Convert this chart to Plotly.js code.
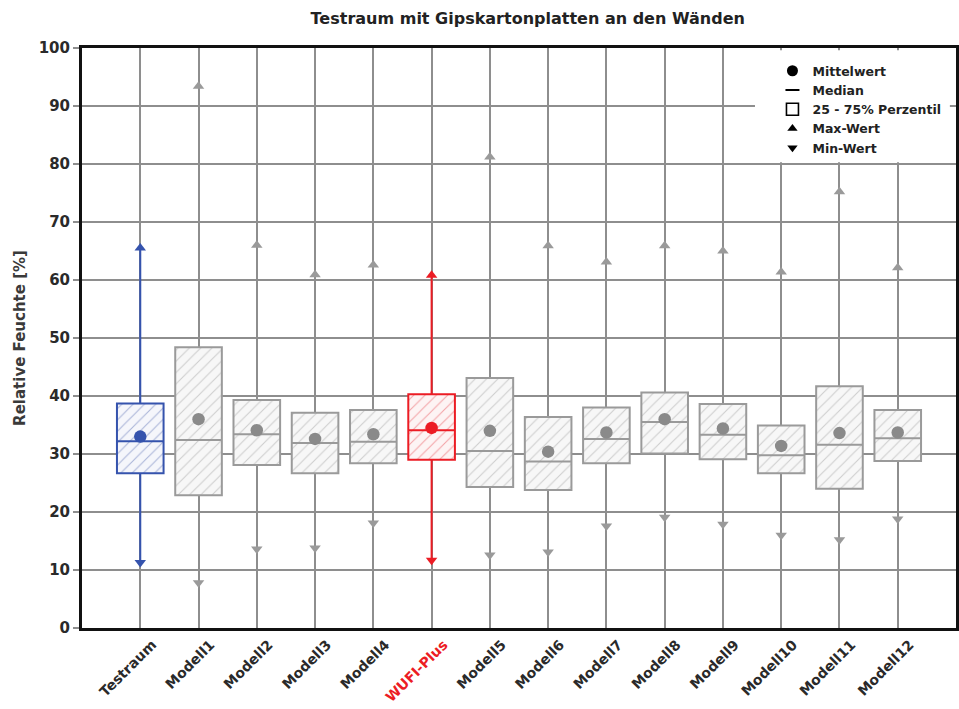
<!DOCTYPE html>
<html>
<head>
<meta charset="utf-8">
<script src="https://cdn.plot.ly/plotly-3.0.1.min.js"></script>
<style>
  html, body { margin: 0; padding: 0; background: #ffffff; }
  #chart { width: 959px; height: 709px; }
</style>
</head>
<body>
<div id="chart"></div>
<script>
// Relative humidity statistics per case (percent)
const categories = ['Testraum', 'Modell1', 'Modell2', 'Modell3', 'Modell4', 'WUFI-Plus',
  'Modell5', 'Modell6', 'Modell7', 'Modell8', 'Modell9', 'Modell10', 'Modell11', 'Modell12'];
const p75 = [38.7, 48.4, 39.3, 37.1, 37.6, 40.3, 43.1, 36.4, 38.0, 40.6, 38.6, 34.9, 41.7, 37.6];
const p25 = [26.7, 22.9, 28.1, 26.7, 28.4, 29.0, 24.3, 23.8, 28.4, 30.1, 29.1, 26.7, 24.0, 28.8];
const median = [32.2, 32.4, 33.4, 31.9, 32.1, 34.1, 30.5, 28.7, 32.6, 35.5, 33.3, 29.8, 31.6, 32.7];
const mean = [33.0, 36.0, 34.1, 32.6, 33.4, 34.5, 34.0, 30.4, 33.7, 36.0, 34.4, 31.4, 33.6, 33.7];
const maxValue = [65.5, 93.4, 66.0, 60.9, 62.6, 60.8, 81.2, 65.9, 63.1, 65.9, 65.0, 61.4, 75.2, 62.1];
const minValue = [11.3, 7.8, 13.6, 13.8, 18.1, 11.7, 12.6, 13.1, 17.6, 19.1, 17.9, 16.0, 15.2, 18.8];

const FONT = '"DejaVu Sans", "Liberation Sans", Arial, sans-serif';
const GRAY_LINE = '#8e8e8e';
const GRAY_BOX = '#9a9a9a';
const GRAY_DOT = '#8a8a8a';
const BLUE = '#3553ad';
const RED = '#ec1c24';

function styleFor(name) {
  if (name === 'Testraum') return { line: BLUE, dot: BLUE, hatch: '#aab4d8', bg: '#f5f6fb' };
  if (name === 'WUFI-Plus') return { line: RED, dot: RED, hatch: '#f3a3a6', bg: '#fdf4f4' };
  return { line: GRAY_BOX, dot: GRAY_DOT, hatch: '#cdcdcd', bg: '#f7f7f7' };
}

const xs = categories.map((_, i) => i);
const traces = [];
const HALF = 0.4;

categories.forEach((name, i) => {
  const st = styleFor(name);
  const highlighted = name === 'Testraum' || name === 'WUFI-Plus';

  // whiskers: q3 -> max and q1 -> min (coloured only for highlighted cases)
  if (highlighted) {
    traces.push({
      type: 'scatter', mode: 'lines', showlegend: false, hoverinfo: 'skip',
      x: [xs[i], xs[i], null, xs[i], xs[i]],
      y: [maxValue[i], p75[i], null, p25[i], minValue[i]],
      line: { color: st.line, width: 2 }
    });
  }

  // interquartile box with hatching
  traces.push({
    type: 'bar', showlegend: false, hoverinfo: 'skip',
    x: [xs[i]], y: [p75[i] - p25[i]], base: [p25[i]], width: 2 * HALF,
    marker: {
      color: st.bg,
      line: { color: st.line, width: 2 },
      pattern: { shape: '/', fgcolor: st.hatch, bgcolor: st.bg, size: 8, solidity: 0.13 }
    }
  });

  // median
  traces.push({
    type: 'scatter', mode: 'lines', showlegend: false, hoverinfo: 'skip',
    x: [xs[i] - HALF, xs[i] + HALF], y: [median[i], median[i]],
    line: { color: st.line, width: 2 }
  });

  // mean, max, min markers
  traces.push({
    type: 'scatter', mode: 'markers', showlegend: false, hoverinfo: 'skip',
    x: [xs[i]], y: [mean[i]],
    marker: { symbol: 'circle', size: 12.5, color: st.dot }
  });
  traces.push({
    type: 'scatter', mode: 'markers', showlegend: false, hoverinfo: 'skip',
    x: [xs[i], xs[i]], y: [maxValue[i], minValue[i]],
    marker: { symbol: ['triangle-up', 'triangle-down'], size: 10, color: st.line }
  });
});

// legend entries
const legendItems = [
  { name: 'Mittelwert', symbol: 'circle', size: 11, line: 0 },
  { name: 'Median', symbol: 'line-ew', size: 10, line: 2 },
  { name: '25 - 75% Perzentil', symbol: 'square-open', size: 12, line: 1.6 },
  { name: 'Max-Wert', symbol: 'triangle-up', size: 9, line: 0 },
  { name: 'Min-Wert', symbol: 'triangle-down', size: 9, line: 0 }
];
legendItems.forEach(it => {
  traces.push({
    type: 'scatter', mode: 'markers', name: it.name, showlegend: true,
    x: [null], y: [null],
    marker: { symbol: it.symbol, size: it.size, color: '#000000',
      line: { color: '#000000', width: it.line } }
  });
});

const tickText = categories.map(c => c === 'WUFI-Plus'
  ? '<span style="color:' + RED + '">' + c + '</span>' : c);

const layout = {
  width: 959, height: 709,
  margin: { l: 82, r: 3, t: 48, b: 81 },
  paper_bgcolor: '#ffffff', plot_bgcolor: '#ffffff',
  font: { family: FONT, color: '#222222' },
  title: {
    text: 'Testraum mit Gipskartonplatten an den Wänden',
    font: { family: FONT, size: 16, weight: 'bold', color: '#222222' },
    x: 0.51, xref: 'paper', xanchor: 'center',
    y: 0.974, yref: 'container', yanchor: 'middle'
  },
  showlegend: true,
  legend: {
    x: 0.79, xanchor: 'left', y: 0.986, yanchor: 'top',
    bgcolor: 'rgba(0,0,0,0)', borderwidth: 0,
    font: { family: FONT, size: 12.5, weight: 'bold', color: '#222222' },
    itemclick: false, itemdoubleclick: false
  },
  barmode: 'overlay',
  xaxis: {
    range: [-1, 14], tickmode: 'array', tickvals: xs, ticktext: tickText,
    tickangle: -45, ticks: '', ticklabelshift: 12, ticklabelstandoff: 0,
    showgrid: true, gridcolor: GRAY_LINE, gridwidth: 2,
    zeroline: false, showline: true, linecolor: '#111111', linewidth: 3, mirror: true,
    tickfont: { family: FONT, size: 14, weight: 'bold', color: '#2a2a2a' },
    fixedrange: true
  },
  yaxis: {
    range: [0, 100], tickmode: 'array', tickvals: [0, 10, 20, 30, 40, 50, 60, 70, 80, 90, 100],
    ticks: 'outside', ticklen: 6, tickwidth: 2, tickcolor: GRAY_LINE,
    showgrid: true, gridcolor: GRAY_LINE, gridwidth: 2, zeroline: false,
    showline: true, linecolor: '#111111', linewidth: 3, mirror: true,
    tickfont: { family: FONT, size: 15, weight: 'bold', color: '#2a2a2a' },
    title: { text: 'Relative Feuchte [%]', standoff: 10,
      font: { family: FONT, size: 15, weight: 'bold', color: '#3a3a3a' } },
    fixedrange: true
  },
  shapes: [{
    type: 'rect', xref: 'paper', yref: 'paper', layer: 'above',
    x0: 0.770, x1: 0.993, y0: 0.803, y1: 0.996,
    fillcolor: '#ffffff', line: { width: 0 }
  }]
};

Plotly.newPlot('chart', traces, layout, { displayModeBar: false, staticPlot: true });
</script>
</body>
</html>
